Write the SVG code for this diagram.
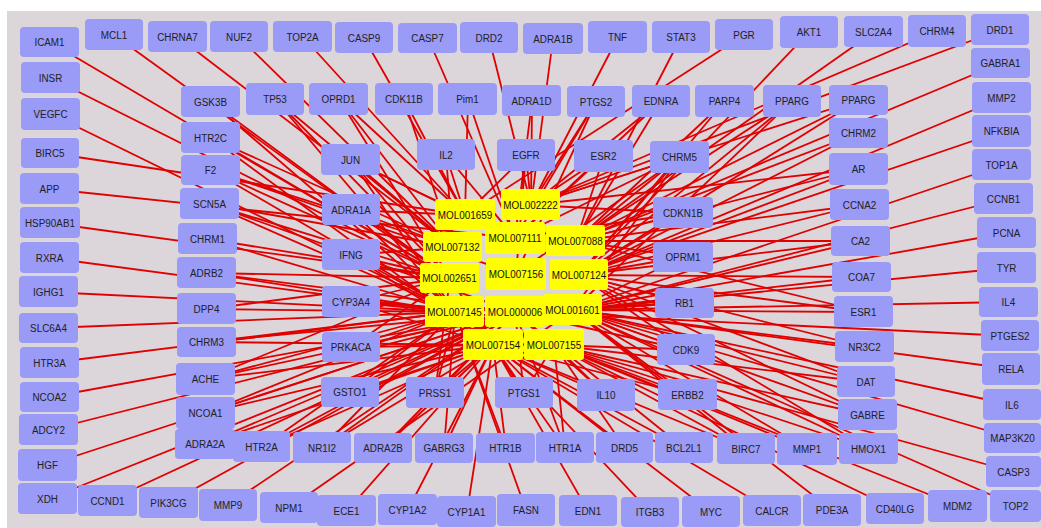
<svg xmlns="http://www.w3.org/2000/svg" width="1041" height="528" viewBox="0 0 1041 528">
<style>
.n rect{fill:#9a9af7;rx:4px;ry:4px}
.m rect{fill:#ffff00;rx:3px;ry:3px}
text{font-family:"Liberation Sans",Arial,sans-serif;font-size:11.5px;fill:#222;text-anchor:middle;dominant-baseline:central;transform-box:fill-box;transform-origin:center;transform:scaleX(0.86)}
.m text{fill:#111}
#edges line{stroke:#e00000;stroke-width:1.8}
</style>
<rect width="1041" height="528" fill="#ffffff"/>
<rect x="7" y="11" width="1034" height="517" fill="#dcd6db"/>
<g id="edges">
<line x1="50" y1="42" x2="450" y2="278"/>
<line x1="51" y1="78" x2="450" y2="278"/>
<line x1="51" y1="114" x2="455" y2="312"/>
<line x1="50" y1="153" x2="465" y2="215"/>
<line x1="50" y1="189" x2="515" y2="238"/>
<line x1="50" y1="223" x2="450" y2="278"/>
<line x1="50" y1="258" x2="455" y2="312"/>
<line x1="49" y1="292" x2="455" y2="312"/>
<line x1="49" y1="328" x2="455" y2="312"/>
<line x1="50" y1="363" x2="455" y2="312"/>
<line x1="50" y1="397" x2="515" y2="312"/>
<line x1="49" y1="430" x2="515" y2="312"/>
<line x1="48" y1="465" x2="515" y2="312"/>
<line x1="48" y1="499" x2="515" y2="312"/>
<line x1="108" y1="501" x2="515" y2="312"/>
<line x1="169" y1="503" x2="515" y2="312"/>
<line x1="228" y1="505" x2="515" y2="312"/>
<line x1="289" y1="508" x2="573" y2="310"/>
<line x1="347" y1="511" x2="493" y2="345"/>
<line x1="408" y1="510" x2="493" y2="345"/>
<line x1="467" y1="512" x2="493" y2="345"/>
<line x1="526" y1="510" x2="455" y2="312"/>
<line x1="588" y1="511" x2="493" y2="345"/>
<line x1="650" y1="512" x2="493" y2="345"/>
<line x1="711" y1="512" x2="493" y2="345"/>
<line x1="772" y1="511" x2="493" y2="345"/>
<line x1="832" y1="510" x2="573" y2="310"/>
<line x1="895" y1="509" x2="554" y2="345"/>
<line x1="958" y1="506" x2="554" y2="345"/>
<line x1="1016" y1="506" x2="573" y2="310"/>
<line x1="1014" y1="472" x2="554" y2="345"/>
<line x1="1013" y1="438" x2="573" y2="310"/>
<line x1="1012" y1="405" x2="573" y2="310"/>
<line x1="1011" y1="369" x2="573" y2="310"/>
<line x1="1010" y1="336" x2="515" y2="312"/>
<line x1="1009" y1="302" x2="573" y2="310"/>
<line x1="1007" y1="268" x2="573" y2="310"/>
<line x1="1007" y1="233" x2="573" y2="310"/>
<line x1="1004" y1="199" x2="573" y2="310"/>
<line x1="1002" y1="165" x2="573" y2="310"/>
<line x1="1002" y1="131" x2="579" y2="275"/>
<line x1="1002" y1="98" x2="579" y2="275"/>
<line x1="1001" y1="63" x2="576" y2="241"/>
<line x1="1000" y1="30" x2="531" y2="205"/>
<line x1="937" y1="31" x2="531" y2="205"/>
<line x1="874" y1="32" x2="576" y2="241"/>
<line x1="809" y1="32" x2="579" y2="275"/>
<line x1="744" y1="35" x2="465" y2="215"/>
<line x1="681" y1="37" x2="576" y2="241"/>
<line x1="618" y1="37" x2="531" y2="205"/>
<line x1="553" y1="39" x2="531" y2="205"/>
<line x1="489" y1="38" x2="531" y2="205"/>
<line x1="428" y1="38" x2="515" y2="238"/>
<line x1="364" y1="38" x2="465" y2="215"/>
<line x1="303" y1="37" x2="465" y2="215"/>
<line x1="239" y1="37" x2="453" y2="247"/>
<line x1="178" y1="37" x2="453" y2="247"/>
<line x1="114" y1="35" x2="450" y2="278"/>
<line x1="211" y1="102" x2="450" y2="278"/>
<line x1="211" y1="102" x2="455" y2="312"/>
<line x1="211" y1="138" x2="453" y2="247"/>
<line x1="211" y1="138" x2="450" y2="278"/>
<line x1="211" y1="138" x2="493" y2="345"/>
<line x1="211" y1="170" x2="453" y2="247"/>
<line x1="211" y1="170" x2="450" y2="278"/>
<line x1="211" y1="170" x2="455" y2="312"/>
<line x1="211" y1="170" x2="516" y2="274"/>
<line x1="210" y1="204" x2="453" y2="247"/>
<line x1="210" y1="204" x2="450" y2="278"/>
<line x1="210" y1="204" x2="455" y2="312"/>
<line x1="210" y1="204" x2="515" y2="312"/>
<line x1="208" y1="239" x2="450" y2="278"/>
<line x1="208" y1="239" x2="455" y2="312"/>
<line x1="207" y1="273" x2="450" y2="278"/>
<line x1="207" y1="273" x2="455" y2="312"/>
<line x1="207" y1="273" x2="515" y2="312"/>
<line x1="207" y1="309" x2="450" y2="278"/>
<line x1="207" y1="309" x2="455" y2="312"/>
<line x1="207" y1="342" x2="455" y2="312"/>
<line x1="207" y1="342" x2="515" y2="312"/>
<line x1="207" y1="342" x2="493" y2="345"/>
<line x1="206" y1="379" x2="450" y2="278"/>
<line x1="206" y1="379" x2="455" y2="312"/>
<line x1="206" y1="379" x2="493" y2="345"/>
<line x1="206" y1="379" x2="515" y2="312"/>
<line x1="206" y1="413" x2="455" y2="312"/>
<line x1="206" y1="413" x2="493" y2="345"/>
<line x1="206" y1="413" x2="515" y2="312"/>
<line x1="205" y1="444" x2="493" y2="345"/>
<line x1="205" y1="444" x2="515" y2="312"/>
<line x1="262" y1="447" x2="493" y2="345"/>
<line x1="262" y1="447" x2="455" y2="312"/>
<line x1="262" y1="447" x2="515" y2="312"/>
<line x1="322" y1="448" x2="493" y2="345"/>
<line x1="322" y1="448" x2="515" y2="312"/>
<line x1="322" y1="448" x2="455" y2="312"/>
<line x1="383" y1="448" x2="493" y2="345"/>
<line x1="383" y1="448" x2="515" y2="312"/>
<line x1="444" y1="448" x2="493" y2="345"/>
<line x1="444" y1="448" x2="455" y2="312"/>
<line x1="506" y1="448" x2="455" y2="312"/>
<line x1="506" y1="448" x2="493" y2="345"/>
<line x1="565" y1="448" x2="493" y2="345"/>
<line x1="565" y1="448" x2="515" y2="312"/>
<line x1="565" y1="448" x2="554" y2="345"/>
<line x1="625" y1="448" x2="493" y2="345"/>
<line x1="625" y1="448" x2="554" y2="345"/>
<line x1="684" y1="448" x2="493" y2="345"/>
<line x1="684" y1="448" x2="515" y2="312"/>
<line x1="746" y1="449" x2="554" y2="345"/>
<line x1="746" y1="449" x2="573" y2="310"/>
<line x1="746" y1="449" x2="493" y2="345"/>
<line x1="807" y1="449" x2="554" y2="345"/>
<line x1="807" y1="449" x2="573" y2="310"/>
<line x1="869" y1="449" x2="554" y2="345"/>
<line x1="869" y1="449" x2="573" y2="310"/>
<line x1="869" y1="449" x2="579" y2="275"/>
<line x1="868" y1="415" x2="554" y2="345"/>
<line x1="868" y1="415" x2="573" y2="310"/>
<line x1="868" y1="415" x2="579" y2="275"/>
<line x1="866" y1="382" x2="573" y2="310"/>
<line x1="866" y1="382" x2="554" y2="345"/>
<line x1="866" y1="382" x2="579" y2="275"/>
<line x1="865" y1="347" x2="573" y2="310"/>
<line x1="865" y1="347" x2="579" y2="275"/>
<line x1="864" y1="312" x2="573" y2="310"/>
<line x1="864" y1="312" x2="579" y2="275"/>
<line x1="864" y1="312" x2="576" y2="241"/>
<line x1="862" y1="277" x2="573" y2="310"/>
<line x1="862" y1="277" x2="579" y2="275"/>
<line x1="861" y1="241" x2="579" y2="275"/>
<line x1="861" y1="241" x2="576" y2="241"/>
<line x1="861" y1="241" x2="573" y2="310"/>
<line x1="860" y1="205" x2="576" y2="241"/>
<line x1="860" y1="205" x2="579" y2="275"/>
<line x1="859" y1="169" x2="576" y2="241"/>
<line x1="859" y1="169" x2="579" y2="275"/>
<line x1="859" y1="169" x2="531" y2="205"/>
<line x1="859" y1="133" x2="576" y2="241"/>
<line x1="859" y1="133" x2="579" y2="275"/>
<line x1="859" y1="100" x2="576" y2="241"/>
<line x1="859" y1="100" x2="579" y2="275"/>
<line x1="859" y1="100" x2="531" y2="205"/>
<line x1="792" y1="101" x2="576" y2="241"/>
<line x1="792" y1="101" x2="579" y2="275"/>
<line x1="792" y1="101" x2="573" y2="310"/>
<line x1="725" y1="101" x2="576" y2="241"/>
<line x1="725" y1="101" x2="579" y2="275"/>
<line x1="661" y1="101" x2="531" y2="205"/>
<line x1="661" y1="101" x2="576" y2="241"/>
<line x1="661" y1="101" x2="515" y2="238"/>
<line x1="596" y1="102" x2="531" y2="205"/>
<line x1="596" y1="102" x2="515" y2="238"/>
<line x1="596" y1="102" x2="516" y2="274"/>
<line x1="532" y1="101" x2="531" y2="205"/>
<line x1="532" y1="101" x2="515" y2="238"/>
<line x1="468" y1="99" x2="465" y2="215"/>
<line x1="468" y1="99" x2="515" y2="238"/>
<line x1="404" y1="99" x2="465" y2="215"/>
<line x1="404" y1="99" x2="453" y2="247"/>
<line x1="339" y1="99" x2="465" y2="215"/>
<line x1="339" y1="99" x2="453" y2="247"/>
<line x1="339" y1="99" x2="450" y2="278"/>
<line x1="275" y1="99" x2="453" y2="247"/>
<line x1="275" y1="99" x2="450" y2="278"/>
<line x1="275" y1="99" x2="455" y2="312"/>
<line x1="351" y1="160" x2="465" y2="215"/>
<line x1="351" y1="160" x2="453" y2="247"/>
<line x1="351" y1="160" x2="450" y2="278"/>
<line x1="351" y1="160" x2="455" y2="312"/>
<line x1="351" y1="160" x2="515" y2="238"/>
<line x1="446" y1="155" x2="465" y2="215"/>
<line x1="446" y1="155" x2="515" y2="238"/>
<line x1="446" y1="155" x2="453" y2="247"/>
<line x1="526" y1="155" x2="531" y2="205"/>
<line x1="526" y1="155" x2="515" y2="238"/>
<line x1="526" y1="155" x2="465" y2="215"/>
<line x1="526" y1="155" x2="516" y2="274"/>
<line x1="604" y1="156" x2="531" y2="205"/>
<line x1="604" y1="156" x2="515" y2="238"/>
<line x1="604" y1="156" x2="576" y2="241"/>
<line x1="680" y1="157" x2="576" y2="241"/>
<line x1="680" y1="157" x2="579" y2="275"/>
<line x1="680" y1="157" x2="531" y2="205"/>
<line x1="680" y1="157" x2="515" y2="238"/>
<line x1="680" y1="157" x2="516" y2="274"/>
<line x1="680" y1="157" x2="573" y2="310"/>
<line x1="351" y1="210" x2="465" y2="215"/>
<line x1="351" y1="210" x2="453" y2="247"/>
<line x1="351" y1="210" x2="450" y2="278"/>
<line x1="351" y1="210" x2="455" y2="312"/>
<line x1="351" y1="255" x2="453" y2="247"/>
<line x1="351" y1="255" x2="450" y2="278"/>
<line x1="351" y1="255" x2="455" y2="312"/>
<line x1="351" y1="255" x2="493" y2="345"/>
<line x1="351" y1="302" x2="450" y2="278"/>
<line x1="351" y1="302" x2="455" y2="312"/>
<line x1="351" y1="302" x2="493" y2="345"/>
<line x1="351" y1="302" x2="515" y2="312"/>
<line x1="351" y1="347" x2="455" y2="312"/>
<line x1="351" y1="347" x2="493" y2="345"/>
<line x1="351" y1="347" x2="515" y2="312"/>
<line x1="351" y1="347" x2="450" y2="278"/>
<line x1="350" y1="392" x2="455" y2="312"/>
<line x1="350" y1="392" x2="493" y2="345"/>
<line x1="350" y1="392" x2="515" y2="312"/>
<line x1="435" y1="393" x2="455" y2="312"/>
<line x1="435" y1="393" x2="493" y2="345"/>
<line x1="435" y1="393" x2="515" y2="312"/>
<line x1="435" y1="393" x2="450" y2="278"/>
<line x1="524" y1="393" x2="493" y2="345"/>
<line x1="524" y1="393" x2="515" y2="312"/>
<line x1="524" y1="393" x2="554" y2="345"/>
<line x1="524" y1="393" x2="450" y2="278"/>
<line x1="606" y1="395" x2="493" y2="345"/>
<line x1="606" y1="395" x2="554" y2="345"/>
<line x1="606" y1="395" x2="515" y2="312"/>
<line x1="688" y1="395" x2="554" y2="345"/>
<line x1="688" y1="395" x2="573" y2="310"/>
<line x1="688" y1="395" x2="493" y2="345"/>
<line x1="686" y1="350" x2="573" y2="310"/>
<line x1="686" y1="350" x2="554" y2="345"/>
<line x1="686" y1="350" x2="579" y2="275"/>
<line x1="686" y1="350" x2="515" y2="312"/>
<line x1="685" y1="303" x2="573" y2="310"/>
<line x1="685" y1="303" x2="579" y2="275"/>
<line x1="685" y1="303" x2="515" y2="312"/>
<line x1="683" y1="257" x2="579" y2="275"/>
<line x1="683" y1="257" x2="576" y2="241"/>
<line x1="683" y1="257" x2="573" y2="310"/>
<line x1="683" y1="213" x2="576" y2="241"/>
<line x1="683" y1="213" x2="531" y2="205"/>
<line x1="683" y1="213" x2="579" y2="275"/>
<line x1="683" y1="213" x2="515" y2="238"/>
</g>
<g id="ICAM1" class="n"><rect x="20" y="27" width="59" height="30"/><text x="49.5" y="42">ICAM1</text></g>
<g id="MCL1" class="n"><rect x="85" y="19" width="58" height="31"/><text x="114" y="34.5">MCL1</text></g>
<g id="CHRNA7" class="n"><rect x="148" y="21" width="59" height="31"/><text x="177.5" y="36.5">CHRNA7</text></g>
<g id="NUF2" class="n"><rect x="210" y="21" width="58" height="31"/><text x="239" y="36.5">NUF2</text></g>
<g id="TOP2A" class="n"><rect x="273" y="21" width="59" height="31"/><text x="302.5" y="36.5">TOP2A</text></g>
<g id="CASP9" class="n"><rect x="335" y="22" width="58" height="31"/><text x="364" y="37.5">CASP9</text></g>
<g id="CASP7" class="n"><rect x="398" y="23" width="59" height="30"/><text x="427.5" y="38">CASP7</text></g>
<g id="DRD2" class="n"><rect x="460" y="22" width="58" height="31"/><text x="489" y="37.5">DRD2</text></g>
<g id="ADRA1B" class="n"><rect x="523" y="23" width="60" height="31"/><text x="553" y="38.5">ADRA1B</text></g>
<g id="TNF" class="n"><rect x="588" y="21" width="59" height="32"/><text x="617.5" y="37">TNF</text></g>
<g id="STAT3" class="n"><rect x="652" y="21" width="58" height="32"/><text x="681" y="37">STAT3</text></g>
<g id="PGR" class="n"><rect x="715" y="19" width="58" height="31"/><text x="744" y="34.5">PGR</text></g>
<g id="AKT1" class="n"><rect x="780" y="16" width="58" height="32"/><text x="809" y="32">AKT1</text></g>
<g id="SLC2A4" class="n"><rect x="844" y="16" width="59" height="31"/><text x="873.5" y="31.5">SLC2A4</text></g>
<g id="CHRM4" class="n"><rect x="908" y="15" width="58" height="32"/><text x="937" y="31">CHRM4</text></g>
<g id="DRD1" class="n"><rect x="971" y="14" width="58" height="31"/><text x="1000" y="29.5">DRD1</text></g>
<g id="GABRA1" class="n"><rect x="971" y="48" width="59" height="30"/><text x="1000.5" y="63">GABRA1</text></g>
<g id="MMP2" class="n"><rect x="972" y="82" width="59" height="31"/><text x="1001.5" y="97.5">MMP2</text></g>
<g id="NFKBIA" class="n"><rect x="972" y="115" width="59" height="32"/><text x="1001.5" y="131">NFKBIA</text></g>
<g id="TOP1A" class="n"><rect x="972" y="149" width="59" height="31"/><text x="1001.5" y="164.5">TOP1A</text></g>
<g id="CCNB1" class="n"><rect x="974" y="183" width="59" height="31"/><text x="1003.5" y="198.5">CCNB1</text></g>
<g id="PCNA" class="n"><rect x="977" y="217" width="59" height="31"/><text x="1006.5" y="232.5">PCNA</text></g>
<g id="TYR" class="n"><rect x="977" y="252" width="59" height="31"/><text x="1006.5" y="267.5">TYR</text></g>
<g id="IL4" class="n"><rect x="979" y="287" width="59" height="30"/><text x="1008.5" y="302">IL4</text></g>
<g id="PTGES2" class="n"><rect x="981" y="320" width="58" height="31"/><text x="1010" y="335.5">PTGES2</text></g>
<g id="RELA" class="n"><rect x="982" y="353" width="58" height="32"/><text x="1011" y="369">RELA</text></g>
<g id="IL6" class="n"><rect x="983" y="389" width="58" height="31"/><text x="1012" y="404.5">IL6</text></g>
<g id="MAP3K20" class="n"><rect x="984" y="423" width="57" height="30"/><text x="1012.5" y="438">MAP3K20</text></g>
<g id="CASP3" class="n"><rect x="986" y="456" width="55" height="31"/><text x="1013.5" y="471.5">CASP3</text></g>
<g id="TOP2" class="n"><rect x="990" y="490" width="51" height="32"/><text x="1015.5" y="506">TOP2</text></g>
<g id="MDM2" class="n"><rect x="928" y="490" width="59" height="32"/><text x="957.5" y="506">MDM2</text></g>
<g id="CD40LG" class="n"><rect x="866" y="493" width="58" height="31"/><text x="895" y="508.5">CD40LG</text></g>
<g id="PDE3A" class="n"><rect x="803" y="494" width="58" height="32"/><text x="832" y="510">PDE3A</text></g>
<g id="CALCR" class="n"><rect x="743" y="495" width="58" height="31"/><text x="772" y="510.5">CALCR</text></g>
<g id="MYC" class="n"><rect x="682" y="496" width="58" height="31"/><text x="711" y="511.5">MYC</text></g>
<g id="ITGB3" class="n"><rect x="621" y="497" width="58" height="30"/><text x="650" y="512">ITGB3</text></g>
<g id="EDN1" class="n"><rect x="559" y="495" width="58" height="31"/><text x="588" y="510.5">EDN1</text></g>
<g id="FASN" class="n"><rect x="497" y="494" width="58" height="32"/><text x="526" y="510">FASN</text></g>
<g id="CYP1A1" class="n"><rect x="437" y="496" width="59" height="31"/><text x="466.5" y="511.5">CYP1A1</text></g>
<g id="CYP1A2" class="n"><rect x="378" y="494" width="59" height="31"/><text x="407.5" y="509.5">CYP1A2</text></g>
<g id="ECE1" class="n"><rect x="317" y="495" width="59" height="31"/><text x="346.5" y="510.5">ECE1</text></g>
<g id="NPM1" class="n"><rect x="260" y="492" width="58" height="31"/><text x="289" y="507.5">NPM1</text></g>
<g id="MMP9" class="n"><rect x="199" y="489" width="58" height="32"/><text x="228" y="505">MMP9</text></g>
<g id="PIK3CG" class="n"><rect x="139" y="487" width="59" height="31"/><text x="168.5" y="502.5">PIK3CG</text></g>
<g id="CCND1" class="n"><rect x="78" y="485" width="59" height="31"/><text x="107.5" y="500.5">CCND1</text></g>
<g id="XDH" class="n"><rect x="18" y="483" width="59" height="31"/><text x="47.5" y="498.5">XDH</text></g>
<g id="HGF" class="n"><rect x="18" y="449" width="59" height="32"/><text x="47.5" y="465">HGF</text></g>
<g id="ADCY2" class="n"><rect x="19" y="414" width="59" height="31"/><text x="48.5" y="429.5">ADCY2</text></g>
<g id="NCOA2" class="n"><rect x="20" y="382" width="59" height="30"/><text x="49.5" y="397">NCOA2</text></g>
<g id="HTR3A" class="n"><rect x="20" y="347" width="59" height="31"/><text x="49.5" y="362.5">HTR3A</text></g>
<g id="SLC6A4" class="n"><rect x="19" y="313" width="59" height="30"/><text x="48.5" y="328">SLC6A4</text></g>
<g id="IGHG1" class="n"><rect x="19" y="276" width="59" height="31"/><text x="48.5" y="291.5">IGHG1</text></g>
<g id="RXRA" class="n"><rect x="20" y="242" width="59" height="31"/><text x="49.5" y="257.5">RXRA</text></g>
<g id="HSP90AB1" class="n"><rect x="20" y="207" width="60" height="31"/><text x="50" y="222.5">HSP90AB1</text></g>
<g id="APP" class="n"><rect x="20" y="173" width="59" height="31"/><text x="49.5" y="188.5">APP</text></g>
<g id="BIRC5" class="n"><rect x="21" y="138" width="58" height="30"/><text x="50" y="153">BIRC5</text></g>
<g id="VEGFC" class="n"><rect x="21" y="98" width="59" height="32"/><text x="50.5" y="114">VEGFC</text></g>
<g id="INSR" class="n"><rect x="21" y="62" width="59" height="31"/><text x="50.5" y="77.5">INSR</text></g>
<g id="GSK3B" class="n"><rect x="181" y="86" width="59" height="31"/><text x="210.5" y="101.5">GSK3B</text></g>
<g id="HTR2C" class="n"><rect x="181" y="122" width="59" height="31"/><text x="210.5" y="137.5">HTR2C</text></g>
<g id="F2" class="n"><rect x="181" y="155" width="59" height="30"/><text x="210.5" y="170">F2</text></g>
<g id="SCN5A" class="n"><rect x="180" y="188" width="59" height="31"/><text x="209.5" y="203.5">SCN5A</text></g>
<g id="CHRM1" class="n"><rect x="178" y="223" width="59" height="31"/><text x="207.5" y="238.5">CHRM1</text></g>
<g id="ADRB2" class="n"><rect x="177" y="257" width="59" height="31"/><text x="206.5" y="272.5">ADRB2</text></g>
<g id="DPP4" class="n"><rect x="177" y="293" width="59" height="31"/><text x="206.5" y="308.5">DPP4</text></g>
<g id="CHRM3" class="n"><rect x="177" y="327" width="59" height="30"/><text x="206.5" y="342">CHRM3</text></g>
<g id="ACHE" class="n"><rect x="176" y="363" width="59" height="32"/><text x="205.5" y="379">ACHE</text></g>
<g id="NCOA1" class="n"><rect x="176" y="397" width="59" height="32"/><text x="205.5" y="413">NCOA1</text></g>
<g id="ADRA2A" class="n"><rect x="175" y="429" width="60" height="30"/><text x="205" y="444">ADRA2A</text></g>
<g id="HTR2A" class="n"><rect x="233" y="431" width="57" height="31"/><text x="261.5" y="446.5">HTR2A</text></g>
<g id="NR1I2" class="n"><rect x="293" y="432" width="58" height="31"/><text x="322" y="447.5">NR1I2</text></g>
<g id="ADRA2B" class="n"><rect x="354" y="433" width="58" height="30"/><text x="383" y="448">ADRA2B</text></g>
<g id="GABRG3" class="n"><rect x="415" y="433" width="58" height="30"/><text x="444" y="448">GABRG3</text></g>
<g id="HTR1B" class="n"><rect x="476" y="433" width="59" height="30"/><text x="505.5" y="448">HTR1B</text></g>
<g id="HTR1A" class="n"><rect x="536" y="432" width="58" height="31"/><text x="565" y="447.5">HTR1A</text></g>
<g id="DRD5" class="n"><rect x="596" y="432" width="57" height="31"/><text x="624.5" y="447.5">DRD5</text></g>
<g id="BCL2L1" class="n"><rect x="655" y="432" width="58" height="31"/><text x="684" y="447.5">BCL2L1</text></g>
<g id="BIRC7" class="n"><rect x="717" y="433" width="58" height="31"/><text x="746" y="448.5">BIRC7</text></g>
<g id="MMP1" class="n"><rect x="777" y="433" width="60" height="32"/><text x="807" y="449">MMP1</text></g>
<g id="HMOX1" class="n"><rect x="839" y="433" width="59" height="31"/><text x="868.5" y="448.5">HMOX1</text></g>
<g id="GABRE" class="n"><rect x="838" y="399" width="59" height="31"/><text x="867.5" y="414.5">GABRE</text></g>
<g id="DAT" class="n"><rect x="837" y="366" width="58" height="31"/><text x="866" y="381.5">DAT</text></g>
<g id="NR3C2" class="n"><rect x="835" y="331" width="59" height="31"/><text x="864.5" y="346.5">NR3C2</text></g>
<g id="ESR1" class="n"><rect x="834" y="296" width="59" height="31"/><text x="863.5" y="311.5">ESR1</text></g>
<g id="COA7" class="n"><rect x="832" y="262" width="59" height="30"/><text x="861.5" y="277">COA7</text></g>
<g id="CA2" class="n"><rect x="831" y="226" width="59" height="30"/><text x="860.5" y="241">CA2</text></g>
<g id="CCNA2" class="n"><rect x="830" y="189" width="59" height="31"/><text x="859.5" y="204.5">CCNA2</text></g>
<g id="AR" class="n"><rect x="829" y="153" width="59" height="32"/><text x="858.5" y="169">AR</text></g>
<g id="CHRM2" class="n"><rect x="829" y="118" width="59" height="30"/><text x="858.5" y="133">CHRM2</text></g>
<g id="PPARG-2" class="n"><rect x="829" y="85" width="59" height="30"/><text x="858.5" y="100">PPARG</text></g>
<g id="TP53" class="n"><rect x="246" y="83" width="58" height="32"/><text x="275" y="99">TP53</text></g>
<g id="OPRD1" class="n"><rect x="309" y="83" width="59" height="32"/><text x="338.5" y="99">OPRD1</text></g>
<g id="CDK11B" class="n"><rect x="375" y="83" width="58" height="32"/><text x="404" y="99">CDK11B</text></g>
<g id="Pim1" class="n"><rect x="438" y="83" width="59" height="32"/><text x="467.5" y="99">Pim1</text></g>
<g id="ADRA1D" class="n"><rect x="502" y="85" width="59" height="31"/><text x="531.5" y="100.5">ADRA1D</text></g>
<g id="PTGS2" class="n"><rect x="567" y="86" width="58" height="31"/><text x="596" y="101.5">PTGS2</text></g>
<g id="EDNRA" class="n"><rect x="632" y="85" width="58" height="32"/><text x="661" y="101">EDNRA</text></g>
<g id="PARP4" class="n"><rect x="695" y="85" width="59" height="32"/><text x="724.5" y="101">PARP4</text></g>
<g id="PPARG" class="n"><rect x="763" y="85" width="58" height="32"/><text x="792" y="101">PPARG</text></g>
<g id="JUN" class="n"><rect x="321" y="144" width="59" height="31"/><text x="350.5" y="159.5">JUN</text></g>
<g id="IL2" class="n"><rect x="417" y="139" width="58" height="31"/><text x="446" y="154.5">IL2</text></g>
<g id="EGFR" class="n"><rect x="497" y="139" width="58" height="32"/><text x="526" y="155">EGFR</text></g>
<g id="ESR2" class="n"><rect x="574" y="140" width="59" height="32"/><text x="603.5" y="156">ESR2</text></g>
<g id="CHRM5" class="n"><rect x="650" y="141" width="59" height="32"/><text x="679.5" y="157">CHRM5</text></g>
<g id="ADRA1A" class="n"><rect x="322" y="194" width="58" height="31"/><text x="351" y="209.5">ADRA1A</text></g>
<g id="IFNG" class="n"><rect x="322" y="239" width="58" height="31"/><text x="351" y="254.5">IFNG</text></g>
<g id="CYP3A4" class="n"><rect x="322" y="286" width="58" height="31"/><text x="351" y="301.5">CYP3A4</text></g>
<g id="PRKACA" class="n"><rect x="322" y="332" width="58" height="30"/><text x="351" y="347">PRKACA</text></g>
<g id="GSTO1" class="n"><rect x="321" y="377" width="58" height="30"/><text x="350" y="392">GSTO1</text></g>
<g id="PRSS1" class="n"><rect x="406" y="377" width="58" height="31"/><text x="435" y="392.5">PRSS1</text></g>
<g id="PTGS1" class="n"><rect x="495" y="377" width="58" height="31"/><text x="524" y="392.5">PTGS1</text></g>
<g id="IL10" class="n"><rect x="577" y="379" width="58" height="32"/><text x="606" y="395">IL10</text></g>
<g id="ERBB2" class="n"><rect x="658" y="379" width="59" height="31"/><text x="687.5" y="394.5">ERBB2</text></g>
<g id="CDK9" class="n"><rect x="657" y="334" width="58" height="31"/><text x="686" y="349.5">CDK9</text></g>
<g id="RB1" class="n"><rect x="655" y="288" width="59" height="30"/><text x="684.5" y="303">RB1</text></g>
<g id="OPRM1" class="n"><rect x="653" y="242" width="60" height="30"/><text x="683" y="257">OPRM1</text></g>
<g id="CDKN1B" class="n"><rect x="653" y="197" width="60" height="31"/><text x="683" y="212.5">CDKN1B</text></g>
<g id="MOL001659" class="m"><rect x="435" y="199" width="60" height="31"/><text x="465" y="214.5">MOL001659</text></g>
<g id="MOL002222" class="m"><rect x="501" y="189" width="59" height="31"/><text x="530.5" y="204.5">MOL002222</text></g>
<g id="MOL007132" class="m"><rect x="423" y="232" width="59" height="30"/><text x="452.5" y="247">MOL007132</text></g>
<g id="MOL007111" class="m"><rect x="485" y="222" width="60" height="32"/><text x="515" y="238">MOL007111</text></g>
<g id="MOL007088" class="m"><rect x="546" y="225" width="59" height="31"/><text x="575.5" y="240.5">MOL007088</text></g>
<g id="MOL002651" class="m"><rect x="420" y="263" width="59" height="30"/><text x="449.5" y="278">MOL002651</text></g>
<g id="MOL007156" class="m"><rect x="486" y="258" width="60" height="32"/><text x="516" y="274">MOL007156</text></g>
<g id="MOL007124" class="m"><rect x="550" y="259" width="58" height="31"/><text x="579" y="274.5">MOL007124</text></g>
<g id="MOL007145" class="m"><rect x="425" y="296" width="59" height="31"/><text x="454.5" y="311.5">MOL007145</text></g>
<g id="MOL000006" class="m"><rect x="485" y="296" width="60" height="31"/><text x="515" y="311.5">MOL000006</text></g>
<g id="MOL001601" class="m"><rect x="543" y="294" width="59" height="31"/><text x="572.5" y="309.5">MOL001601</text></g>
<g id="MOL007154" class="m"><rect x="463" y="329" width="60" height="31"/><text x="493" y="344.5">MOL007154</text></g>
<g id="MOL007155" class="m"><rect x="524" y="329" width="60" height="31"/><text x="554" y="344.5">MOL007155</text></g>
</svg>
